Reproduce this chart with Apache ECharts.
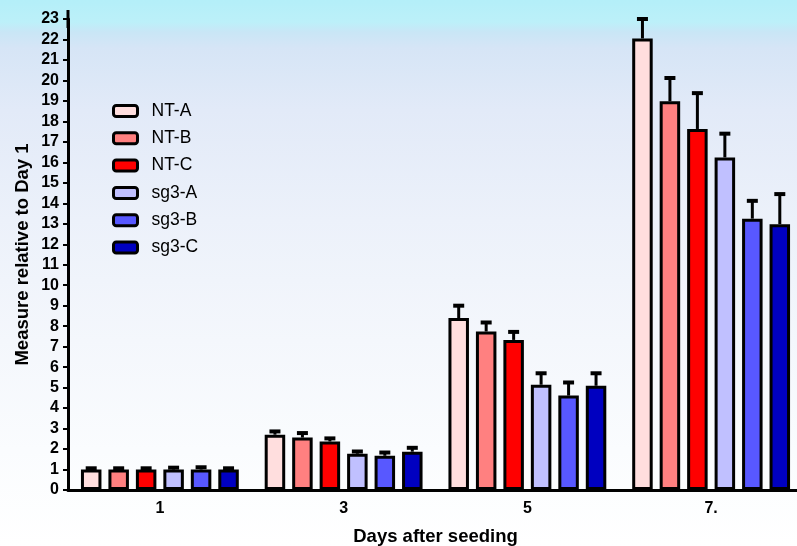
<!DOCTYPE html>
<html>
<head>
<meta charset="utf-8">
<script src="https://cdn.jsdelivr.net/npm/echarts@6/dist/echarts.min.js"></script>
<style>
  html, body { margin: 0; padding: 0; }
  #chart {
    width: 797px; height: 546px;
    background: linear-gradient(to bottom,
      #b4eff9 0px, #bcf0f9 22px, #c9e6f6 32px, #d6e5f6 48px,
      #e2eaf8 110px, #ecf1fa 220px, #f4f7fc 340px, #fafcfe 450px, #ffffff 546px);
  }
</style>
</head>
<body>
<div id="chart"></div>
<script>
// Days after seeding (category labels)
const days = ['1', '3', '5', '7.'];
const seriesNames = ['NT-A', 'NT-B', 'NT-C', 'sg3-A', 'sg3-B', 'sg3-C'];

// Mean measure relative to day 1
const ntA  = [1.00, 2.70, 8.40, 22.05];
const ntB  = [1.00, 2.56, 7.74, 18.98];
const ntC  = [1.00, 2.37, 7.33, 17.63];
const sg3A = [1.00, 1.77, 5.14, 16.24];
const sg3B = [1.00, 1.67, 4.61, 13.25];
const sg3C = [1.00, 1.87, 5.09, 12.98];

// Upper end of the error bars (mean + error)
const ntAUp  = [1.06, 2.86, 9.00, 23.00];
const ntBUp  = [1.06, 2.78, 8.18, 20.12];
const ntCUp  = [1.06, 2.52, 7.72, 19.38];
const sg3AUp = [1.09, 1.88, 5.70, 17.40];
const sg3BUp = [1.11, 1.83, 5.25, 14.12];
const sg3CUp = [1.06, 2.06, 5.70, 14.45];

const yTicks = { min: 0, max: 23, interval: 1 };

const means = [ntA, ntB, ntC, sg3A, sg3B, sg3C];
const uppers = [ntAUp, ntBUp, ntCUp, sg3AUp, sg3BUp, sg3CUp];
const colors = ['#ffdede', '#ff8080', '#ff0000', '#c0c0ff', '#5858ff', '#0000c0'];

const FONT = '"Liberation Sans", Arial, sans-serif';
const BAR_W = 20.5;
const GAP_RATIO = 0.34;
const PITCH = BAR_W * (1 + GAP_RATIO);

const barSeries = seriesNames.map((name, i) => ({
  type: 'bar',
  name: name,
  data: means[i],
  barWidth: BAR_W,
  barGap: (GAP_RATIO * 100) + '%',
  itemStyle: { color: colors[i], borderColor: '#000', borderWidth: 3 },
  z: 3
}));

// Upper error bars with caps, placed over each bar of the group
const errSeries = seriesNames.map((name, i) => ({
  type: 'custom',
  data: days.map((d, j) => [j, means[i][j], uppers[i][j]]),
  encode: { x: 0, y: 2 },
  z: 2,
  silent: true,
  renderItem: function (params, api) {
    const top = api.coord([api.value(0), api.value(2)]);
    const base = api.coord([api.value(0), api.value(1)]);
    const cx = top[0] + (i - 2.5) * PITCH;
    return {
      type: 'group',
      children: [
        { type: 'line', shape: { x1: cx, y1: base[1], x2: cx, y2: top[1] },
          style: { stroke: '#000', lineWidth: 3 } },
        { type: 'line', shape: { x1: cx - 5.5, y1: top[1], x2: cx + 5.5, y2: top[1] },
          style: { stroke: '#000', lineWidth: 4 } }
      ]
    };
  }
}));

const chart = echarts.init(document.getElementById('chart'), null, { renderer: 'canvas' });
chart.setOption({
  backgroundColor: 'transparent',
  animation: false,
  textStyle: { fontFamily: FONT },
  grid: { left: 68, top: 19, height: 471, width: 735, containLabel: false, outerBoundsMode: 'none' },
  legend: {
    orient: 'vertical',
    left: 107,
    top: 97,
    padding: 5,
    data: seriesNames,
    icon: 'roundRect',
    itemWidth: 24,
    itemHeight: 11,
    itemGap: 9.3,
    itemStyle: { borderColor: '#000', borderWidth: 3 },
    textStyle: { fontFamily: FONT, fontSize: 17.5, color: '#000', lineHeight: 17, padding: [0, 0, 0, 9] }
  },
  xAxis: {
    type: 'category',
    data: days,
    name: 'Days after seeding',
    nameLocation: 'middle',
    nameGap: 37,
    nameMoveOverlap: false,
    nameTextStyle: { fontFamily: FONT, fontSize: 18.5, fontWeight: 'bold', color: '#000' },
    axisLine: { lineStyle: { color: '#000', width: 3 } },
    axisTick: { alignWithLabel: true, length: 6, lineStyle: { color: '#000', width: 2 } },
    axisLabel: { fontFamily: FONT, fontSize: 16, fontWeight: 'bold', color: '#000', margin: 11 },
    splitLine: { show: false }
  },
  yAxis: {
    type: 'value',
    min: yTicks.min,
    max: yTicks.max,
    interval: yTicks.interval,
    name: 'Measure relative to Day 1',
    nameLocation: 'middle',
    nameRotate: 90,
    nameGap: 36,
    nameMoveOverlap: false,
    nameTextStyle: { fontFamily: FONT, fontSize: 18.5, fontWeight: 'bold', color: '#000' },
    axisLine: {
      show: true,
      lineStyle: { color: '#000', width: 3 },
      symbol: ['none', 'rect'],
      symbolSize: [3, 18],
      symbolOffset: [0, 0]
    },
    axisTick: { show: true, length: 5, lineStyle: { color: '#000', width: 2 } },
    axisLabel: { fontFamily: FONT, fontSize: 16, fontWeight: 'bold', color: '#000', margin: 9 },
    splitLine: { show: false }
  },
  series: [...errSeries, ...barSeries]
});
</script>
</body>
</html>
